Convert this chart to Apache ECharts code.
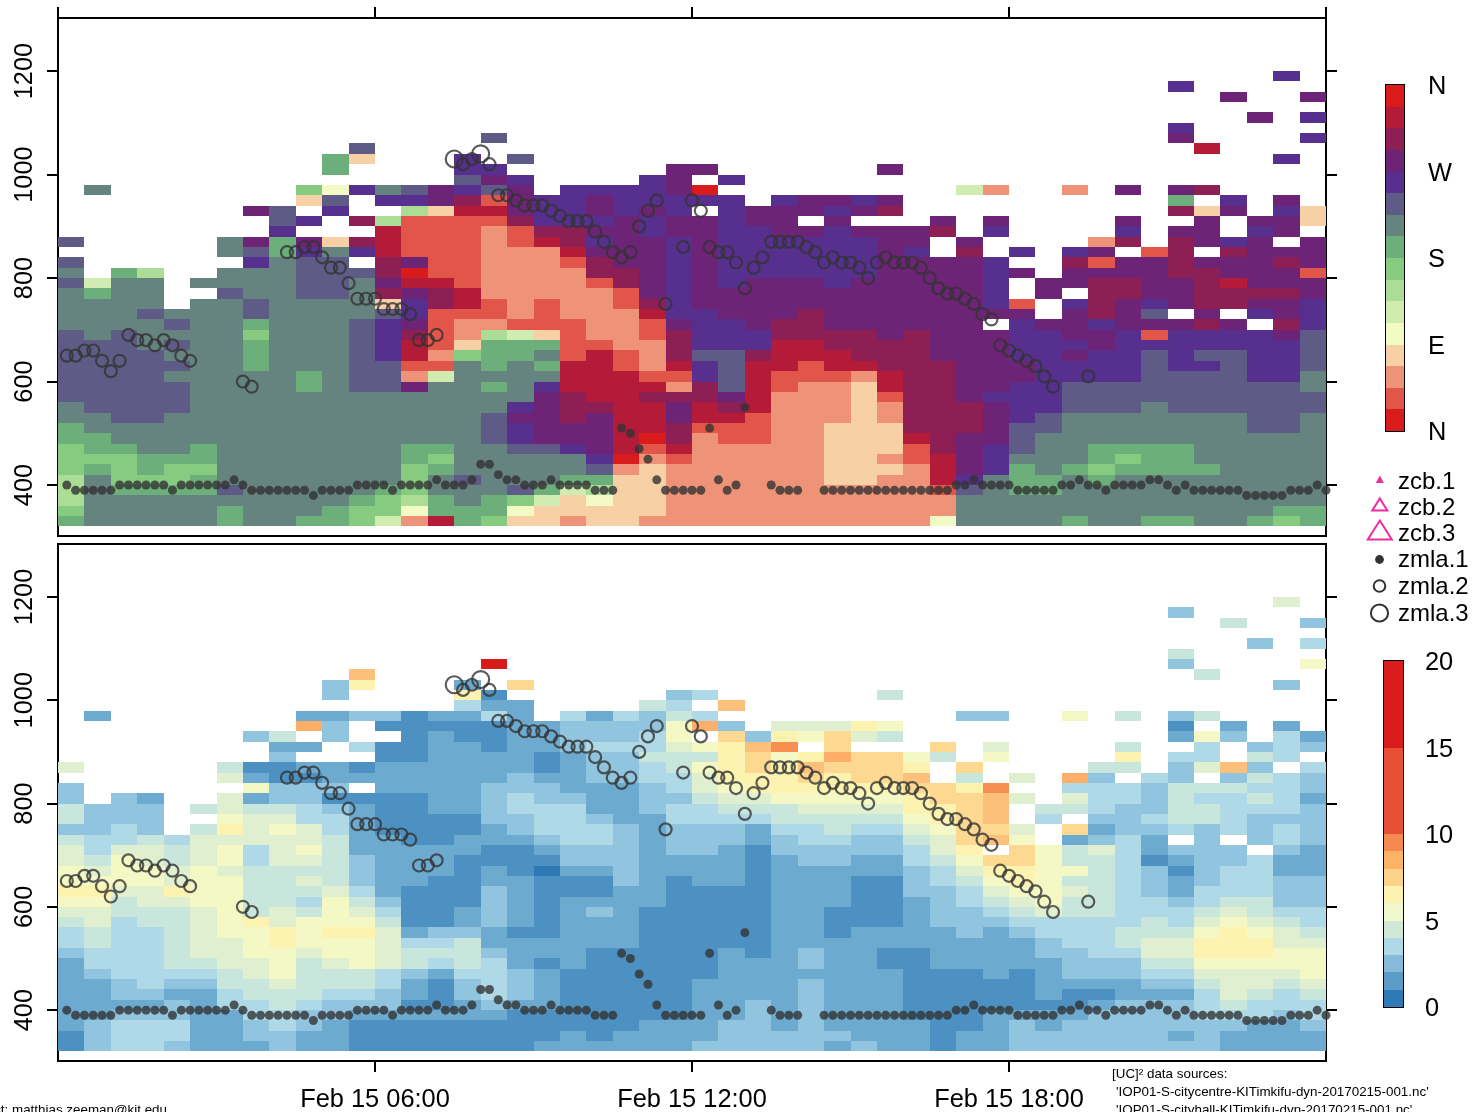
<!DOCTYPE html>
<html>
<head>
<meta charset="utf-8">
<style>html,body{margin:0;padding:0;background:#fff;overflow:hidden}#c{width:1472px;height:1112px}</style>
<script src="https://cdn.jsdelivr.net/npm/echarts@6/dist/echarts.min.js"></script>
</head>
<body>
<div id="c"></div>
<script>
// Wind direction class per cell (hex code = 22.5 degree sector, "." = no data). Row 0 starts at 320 m, 20 m rows, 30 min columns.
const dirRows = [
"89999989988752e8 7332332222222222 2499998998899878",
"7999998999877488 8433333222222222 2299999999999988",
"6999999999987689 8753433222222222 2299999999999999",
"698888a999998799 9a85633222222222 21a9889999999999",
"697778999999979a 9998833222222332 2eb9889899999999",
"7878779999999789 9999a23222222333 2ecb898788889999",
"7778889999999879 9999bf2122222332 1ecb999878899999",
"7889989999999889 9aabce1e22222333 1dcba99888899999",
"8899999999999999 abcccefd21122333 edcca99999999999",
"8999999999999999 abccceed11122333 dddcaa9999999aa9",
"99aa999999999999 accdceecee122232 dddcba9999999aa9",
"9aaaa99999999999 9bcddeecede22232 dddcbbaaa9aaaaaa",
"aaaaa99999999999 99cdeedddce22231 ddcbbbaaaaaaaaaa",
"aaaaa999989aac99 89beeee2dae1223e ddccbbaaaaaaaaa9",
"aaaa9999989aa259 999eee11bae1112e ddcccbbbbaaaabb9",
"aaaaa998999aa119 898ee12ebaee1eed ddcccbbbbabbabba",
"aaaa9998999abe27 8891e12daadeeedd dcccbbcbbabaabba",
"aaa9a998999abe13 8881122dbbbeeddd dcccbbbcbbbbbbba",
"a9a99997999abd12 6531221dbbbddddc dcccbbccb1bbbbca",
"9999a998999abc12 2111221cbbcddccc ccc.bccbcccdc.db",
"999a999a9999ab11 121222ebbcccdccc ccccc.cdca.c.bcb",
"9999.99a99993bde 121221dbcccccccc cccb1.bdcbcddccb",
"9899..a99aa9dcde 222221cbcccccccc cccb.c.ddccddddc",
"a599.9999aa9cee1 22221dcbcbcccbcc cccb.ccddccdeccc",
"9.86..999aaadf11 2222ddcbcbbbbbbc cccbc.ccccddccc1",
"a......b9aa.dc11 2221dccbcbbbbbbc cccb..d1ccdcccdc",
"......9a8b9be111 222ecccbcbbbbbbc b.d.b.bc.1d.dccc",
"a.....9c8c3de111 21edbccbcbbbbbbc c.c....2d.dcbc.c",
"........b...e111 21ddccbccbbccbcc cd.b....b.cc.bc.",
"........ab.d6111 1dbbbcbccbcc.c.. .c.c....c..c.cc3",
".......ca.b..63e ecbbcbcb.bcccbcd ..........d3c.b3",
".........3a.bbcd 1cbbcbbbbb.bccbc ..........8.b.c.",
".9.......74b9acb ac.bbbbcf....... ..52..2.c.cd....",
"...............a cb....bc.b...... ................",
"..........8....b b......cc......c ................",
"..........83...b .a.............. ..............b.",
"...........a.... ................ ...........e....",
"................ a............... ..........c....b",
"................ ................ ..........b.....",
"................ ................ .............c.b",
"................ ................ ................",
"................ ................ ............c..c",
"................ ................ ..........b.....",
"................ ................ ..............b."
];
// Wind speed class per cell (hex code into spdColors, "." = no data).
const spdRows = [
"1344322232211111 1122222233333232 2122333333332222",
"1344422332211111 1112122223333322 2122333333232222",
"2344422343211111 1111112223323222 2112323333333223",
"2233322443322222 2111111122323222 1112222333344434",
"2222324454333112 3221111122323222 1111111233345444",
"2233224555443213 4321111122223222 1111121122246545",
"2234335565554213 4321111122223222 1111122223356656",
"2344445675554324 4321111112222222 1112123334466667",
"2444556675676545 4212111112223221 1222223335577777",
"3444566776776555 3222111112123221 1222233446688877",
"4544566787776445 2222221111122222 2222234456688866",
"4544567787886233 2112221111122122 2232344455578765",
"5645567867775112 3212221111122111 2333444445467654",
"6655567565764112 3212321111122111 2334565544456544",
"7756677554753111 3212222111122211 2345675544345533",
"8866877555642111 3211122111122211 3346776543244433",
"7777677556532211 2211132122122211 3457875543234433",
"7677676555532221 2102232222122222 3468877543134422",
"6576567466532221 1113332222123322 4579975541233422",
"6466567467522222 1123332332133333 468.975642333.32",
"5445466666522112 2234432333234433 569a7.2342.3.343",
"3343.58676421111 2344432333244544 67996.9233434343",
"5333..7664421111 3344322444455555 789a.4.334554333",
"5333.56554321122 3444223445556666 889a.55433554443",
"3.32..6233111122 3433223356677777 899a6.6443544542",
"3......7333.2222 3332223467888888 998c..4443555443",
"......6211222222 2322334468889899 a.5.6.b3.43.3543",
"6.....5112212222 221233457898a999 8.9....55.36a3.4",
"........3...1122 2212335558978b99 75.7....8.44.54.",
"........22.41122 1223444678ac.9.. .9.6....5..4.343",
".......35.3..121 12233347.9387965 ..........273.42",
".........b3.1111 12233337b3.66687 ..........1.2.2.",
".2.......2233122 42.424354....... ..33..7.5.35....",
"...............4 22....54.a...... ................",
"..........3....8 1......34......5 ................",
"..........38...2 .9.............. ..............3.",
"...........a.... ................ ...........5....",
"................ e............... ..........3....7",
"................ ................ ..........5.....",
"................ ................ .............3.4",
"................ ................ ................",
"................ ................ ............5..3",
"................ ................ ..........3.....",
"................ ................ ..............6."
];
// Mixed layer height [10-minute index of the day, metres]
const zmla1 = [[1,400],[2,390],[3,390],[4,390],[5,390],[6,390],[7,400],[8,400],[9,400],[10,400],[11,400],[12,400],[13,390],[14,400],[15,400],[16,400],[17,400],[18,400],[19,400],[20,410],[21,400],[22,390],[23,390],[24,390],[25,390],[26,390],[27,390],[28,390],[29,380],[30,390],[31,390],[32,390],[33,390],[34,400],[35,400],[36,400],[37,400],[38,390],[39,400],[40,400],[41,400],[42,400],[43,410],[44,400],[45,400],[46,400],[47,410],[48,440],[49,440],[50,420],[51,410],[52,410],[53,400],[54,400],[55,400],[56,410],[57,400],[58,400],[59,400],[60,400],[61,390],[62,390],[63,390],[64,510],[65,500],[66,470],[67,450],[68,410],[69,390],[70,390],[71,390],[72,390],[73,390],[74,510],[75,410],[76,390],[77,400],[78,550],[81,400],[82,390],[83,390],[84,390],[87,390],[88,390],[89,390],[90,390],[91,390],[92,390],[93,390],[94,390],[95,390],[96,390],[97,390],[98,390],[99,390],[100,390],[101,390],[102,400],[103,400],[104,410],[105,400],[106,400],[107,400],[108,400],[109,390],[110,390],[111,390],[112,390],[113,390],[114,400],[115,400],[116,410],[117,400],[118,400],[119,390],[120,400],[121,400],[122,400],[123,400],[124,410],[125,410],[126,400],[127,390],[128,400],[129,390],[130,390],[131,390],[132,390],[133,390],[134,390],[135,380],[136,380],[137,380],[138,380],[139,380],[140,390],[141,390],[142,390],[143,400],[144,390]];
const zmla2 = [[1,650],[2,650],[3,660],[4,660],[5,640],[6,620],[7,640],[8,690],[9,680],[10,680],[11,670],[12,680],[13,670],[14,650],[15,640],[21,600],[22,590],[26,850],[27,850],[28,860],[29,860],[30,840],[31,820],[32,820],[33,790],[34,760],[35,760],[36,760],[37,740],[38,740],[39,740],[40,730],[41,680],[42,680],[43,690],[46,1020],[47,1030],[49,1020],[50,960],[51,960],[52,950],[53,940],[54,940],[55,940],[56,930],[57,920],[58,910],[59,910],[60,910],[61,890],[62,870],[63,850],[64,840],[65,850],[66,900],[67,930],[68,950],[69,750],[71,860],[72,950],[73,930],[74,860],[75,850],[76,850],[77,830],[78,780],[79,820],[80,840],[81,870],[82,870],[83,870],[84,870],[85,860],[86,850],[87,830],[88,840],[89,830],[90,830],[91,820],[92,800],[93,830],[94,840],[95,830],[96,830],[97,830],[98,820],[99,800],[100,780],[101,770],[102,770],[103,760],[104,750],[105,730],[106,720],[107,670],[108,660],[109,650],[110,640],[111,630],[112,610],[113,590],[117,610]];
const zmla3 = [[45,1030],[48,1040]];
const legendNames = ['zcb.1','zcb.2','zcb.3','zmla.1','zmla.2','zmla.3'];
const dirLabels = {0:'N',90:'E',180:'S',270:'W',360:'N'};
const dirColors = ['#DA1B1B','#E25649','#EE9378','#F7D0A6','#F3FAC5','#D1ECB0','#ABDD96','#86CB80','#6DAF7A','#66847F','#5E5C86','#572F8E','#6E2476','#8E1F54','#B31B38','#DA1B1B'];
const spdColors = ['#2E78B6','#4C91C2','#6DAAD0','#91C4DE','#B0D9E7','#C8E6DB','#DFEFCF','#F3F8C5','#FDF3B0','#FDD890','#FDC07B','#FDAE68','#F78F52','#E85533','#DA1B1B'];
const speedEdges = [0,1,2,3,4,5,6,7,8,9,10,15,20];
const speedBarColors = ['#2E7AB6','#5B9BC8','#87BADA','#B0D9E7','#D1E8D6','#EFF7CC','#FDF3B0','#FDD28A','#FDB366','#F58A50','#E85035','#DA1B1B'];
const hourTicks = {6:'Feb 15 06:00',12:'Feb 15 12:00',18:'Feb 15 18:00'};
const heightTicks = [400,600,800,1000,1200];
const COL_H = 0.5, ROW_M = 20, BASE_M = 320;

const FONT = '"Liberation Sans", Arial, Helvetica, sans-serif';
const INK = '#333333', PINK = '#EE2CA0';

function decode(rows){
  const out = [];
  rows.forEach((raw, j) => {
    const r = raw.replace(/ /g,'');
    for (let c = 0; c < r.length; c++) {
      if (r[c] === '.') continue;
      out.push([c*COL_H, BASE_M + j*ROW_M, parseInt(r[c],16)]);
    }
  });
  return out;
}
const cellRenderer = palette => (params, api) => {
  const x = api.value(0), y = api.value(1);
  const a = api.coord([x, y + ROW_M]), b = api.coord([x + COL_H, y]);
  const x0 = Math.round(a[0]), y0 = Math.round(a[1]), x1 = Math.round(b[0]), y1 = Math.round(b[1]);
  return {type:'rect', shape:{x:x0, y:y0, width:x1-x0, height:y1-y0}, style:{fill:palette[api.value(2)]}};
};
const barRenderer = palette => (params, api) => {
  const a = api.coord([0, api.value(1)]), b = api.coord([1, api.value(0)]);
  const x0 = Math.round(a[0]), y0 = Math.round(a[1]), x1 = Math.round(b[0]), y1 = Math.round(b[1]);
  return {type:'rect', shape:{x:x0, y:y0, width:x1-x0, height:y1-y0}, style:{fill:palette[api.value(2)]}};
};
const toHours = arr => arr.map(d => [d[0]/6, d[1]]);

const gridBase = {show:true, borderColor:'#000', borderWidth:2, backgroundColor:'transparent', containLabel:false};
const timeAxis = (idx, pos, labels) => ({
  type:'value', gridIndex:idx, position:pos, min:0, max:24, interval:6, splitLine:{show:false},
  axisLine:{show:true, onZero:false, lineStyle:{color:'#000', width:2}},
  axisTick:{show:true, length:11, lineStyle:{color:'#000', width:2}},
  axisLabel:{show:labels, showMinLabel:false, showMaxLabel:false, margin:26, color:'#000', fontFamily:FONT, fontSize:25.4,
    formatter:v => hourTicks[v] || ''}
});
const heightAxis = (idx, pos, labels) => ({
  type:'value', gridIndex:idx, position:pos, min:301.5, max:1302.5, splitLine:{show:false},
  axisLine:{show:true, onZero:false, lineStyle:{color:'#000', width:2}},
  axisTick:{show:true, length:11, customValues:heightTicks, lineStyle:{color:'#000', width:2}},
  axisLabel:{show:labels, customValues:heightTicks, rotate:90, margin:21, color:'#000', fontFamily:FONT, fontSize:25.4, formatter:v => String(v)}
});
const hiddenX = idx => ({type:'value', gridIndex:idx, min:0, max:1, show:false});
const barAxis = (idx, max, interval, fmt, margin) => ({
  type:'value', gridIndex:idx, position:'right', min:0, max, interval, splitLine:{show:false},
  axisLine:{show:true, lineStyle:{color:'#000', width:2}},
  axisTick:{show:true, length:13, lineStyle:{color:'#000', width:2}},
  axisLabel:{show:true, margin, verticalAlign:'top', lineHeight:4, color:'#000', fontFamily:FONT, fontSize:25.4, formatter:fmt}
});
function markers(xi, yi){
  return [
    {type:'scatter', name:'zmla.1', xAxisIndex:xi, yAxisIndex:yi, data:toHours(zmla1), symbol:'circle', symbolSize:9, clip:false, z:5, silent:true, itemStyle:{color:INK}},
    {type:'scatter', name:'zmla.2', xAxisIndex:xi, yAxisIndex:yi, data:toHours(zmla2), symbol:'circle', symbolSize:12, clip:false, z:5, silent:true, itemStyle:{color:'rgba(0,0,0,0)', borderColor:INK, borderWidth:2.2}},
    {type:'scatter', name:'zmla.3', xAxisIndex:xi, yAxisIndex:yi, data:toHours(zmla3), symbol:'circle', symbolSize:17, clip:false, z:5, silent:true, itemStyle:{color:'rgba(0,0,0,0)', borderColor:INK, borderWidth:2.2}}
  ];
}
const dirBins = dirColors.map((c,i) => [i*22.5, (i+1)*22.5, i]);
const spdBins = speedBarColors.map((c,i) => [speedEdges[i], speedEdges[i+1], i]);

// legend entries
const legendY = [481,507,533,559.5,586,613];
const legendGraphics = legendNames.map((t,i) => ({
  type:'text', left:1398, top:legendY[i]-11,
  style:{text:t, font:'24px '+FONT, fill:'#000', textVerticalAlign:'top'}
}));
const tri = (cx, top, bottom, halfW) => [[cx, top],[cx+halfW, bottom],[cx-halfW, bottom]];
legendGraphics.push(
  {type:'polygon', shape:{points:tri(1379.8,475.5,483,4)}, style:{fill:PINK}},
  {type:'polygon', shape:{points:tri(1379.8,498.5,510.5,7.5)}, style:{fill:'none', stroke:PINK, lineWidth:2}},
  {type:'polygon', shape:{points:tri(1379.8,520.5,539.5,12)}, style:{fill:'none', stroke:PINK, lineWidth:2}},
  {type:'circle', shape:{cx:1379.5, cy:559.5, r:4.4}, style:{fill:INK}},
  {type:'circle', shape:{cx:1379.5, cy:586, r:5.8}, style:{fill:'none', stroke:INK, lineWidth:2}},
  {type:'circle', shape:{cx:1379.5, cy:613, r:8.6}, style:{fill:'none', stroke:INK, lineWidth:2}},
  {type:'text', left:1112, top:1067.5, style:{text:'[UC]\u00b2 data sources:', font:'13.4px '+FONT, fill:'#000'}},
  {type:'text', left:1116, top:1086, style:{text:"'IOP01-S-citycentre-KITimkifu-dyn-20170215-001.nc'", font:'13.4px '+FONT, fill:'#000'}},
  {type:'text', left:1116, top:1103.5, style:{text:"'IOP01-S-cityhall-KITimkifu-dyn-20170215-001.nc'", font:'13.4px '+FONT, fill:'#000'}},
  {type:'text', x:167, y:1104, style:{text:'contact: matthias.zeeman@kit.edu', font:'13.4px '+FONT, fill:'#000', textAlign:'right', textVerticalAlign:'top'}}
);

const chart = echarts.init(document.getElementById('c'), null, {renderer:'canvas', width:1472, height:1112});
chart.setOption({
  animation:false, backgroundColor:'#fff', tooltip:{show:false},
  grid:[
    Object.assign({left:58, top:18, width:1268, height:518}, gridBase),
    Object.assign({left:58, top:544, width:1268, height:518}, gridBase),
    Object.assign({left:1386, top:85, width:18, height:346}, gridBase),
    Object.assign({left:1384, top:661, width:19, height:346}, gridBase)
  ],
  xAxis:[timeAxis(0,'top',false), timeAxis(1,'bottom',true), hiddenX(2), hiddenX(3)],
  yAxis:[heightAxis(0,'left',true), heightAxis(0,'right',false), heightAxis(1,'left',true), heightAxis(1,'right',false),
    barAxis(2,360,90,v => dirLabels[v],24), barAxis(3,20,5,v => String(v),22)],
  graphic:legendGraphics,
  series:[
    {type:'custom', name:'direction', xAxisIndex:0, yAxisIndex:0, data:decode(dirRows), renderItem:cellRenderer(dirColors), silent:true, z:2, encode:{x:0,y:1}},
    {type:'custom', name:'speed', xAxisIndex:1, yAxisIndex:2, data:decode(spdRows), renderItem:cellRenderer(spdColors), silent:true, z:2, encode:{x:0,y:1}},
    ...markers(0,0), ...markers(1,2),
    {type:'custom', name:'dirbar', xAxisIndex:2, yAxisIndex:4, data:dirBins, renderItem:barRenderer(dirColors), silent:true, z:1, encode:{y:[0,1]}},
    {type:'custom', name:'spdbar', xAxisIndex:3, yAxisIndex:5, data:spdBins, renderItem:barRenderer(speedBarColors), silent:true, z:1, encode:{y:[0,1]}}
  ]
});
</script>
</body>
</html>
